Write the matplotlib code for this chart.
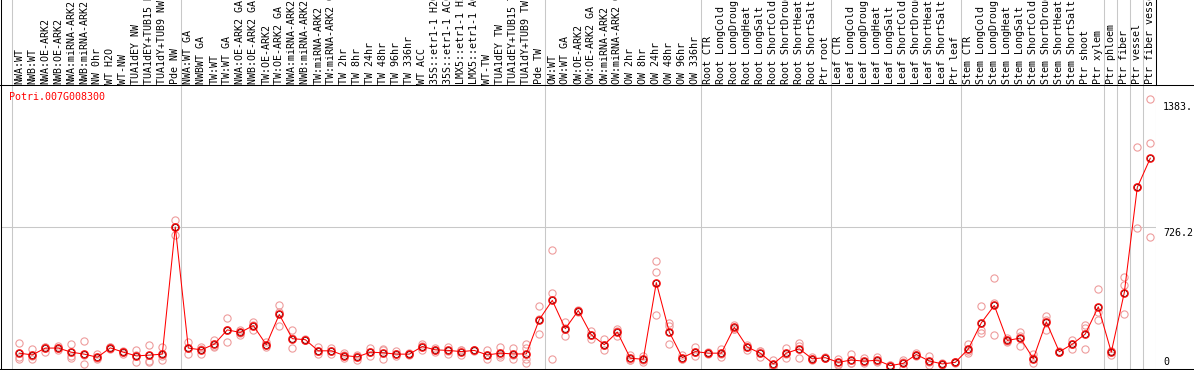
import matplotlib
matplotlib.use("Agg")
import matplotlib.pyplot as plt
from matplotlib.lines import Line2D

# ── data ──────────────────────────────────────────────────────────────────────
gene = "Potri.007G008300"

labels = [
    "NWA:WT", "NWB:WT", "NWA:OE-ARK2", "NWB:OE-ARK2", "NWA:miRNA-ARK2",
    "NWB:miRNA-ARK2", "NW 0hr", "WT H2O", "WT-NW", "TUA1dEY NW",
    "TUA1dEY+TUB15 NW", "TUA1dY+TUB9 NW", "Pde NW",
    "NWA:WT GA", "NWBWT GA", "TW:WT", "TW:WT GA", "NWA:OE-ARK2 GA",
    "NWB:OE-ARK2 GA", "TW:OE-ARK2", "TW:OE-ARK2 GA", "NWA:miRNA-ARK2 GA",
    "NWB:miRNA-ARK2 GA", "TW:miRNA-ARK2", "TW:miRNA-ARK2 GA", "TW 2hr",
    "TW 8hr", "TW 24hr", "TW 48hr", "TW 96hr", "TW 336hr", "WT ACC",
    "35S::etr1-1 H2O", "35S::etr1-1 ACC", "LMX5::etr1-1 H2O",
    "LMX5::etr1-1 ACC", "WT-TW", "TUA1dEY TW", "TUA1dEY+TUB15 TW",
    "TUA1dY+TUB9 TW", "Pde TW",
    "OW:WT", "OW:WT GA", "OW:OE-ARK2", "OW:OE-ARK2 GA", "OW:miRNA-ARK2",
    "OW:miRNA-ARK2 GA", "OW 2hr", "OW 8hr", "OW 24hr", "OW 48hr", "OW 96hr",
    "OW 336hr",
    "Root CTR", "Root LongCold", "Root LongDrought", "Root LongHeat",
    "Root LongSalt", "Root ShortCold", "Root ShortDrought", "Root ShortHeat",
    "Root ShortSalt", "Ptr root",
    "Leaf CTR", "Leaf LongCold", "Leaf LongDrought", "Leaf LongHeat",
    "Leaf LongSalt", "Leaf ShortCold", "Leaf ShortDrought", "Leaf ShortHeat",
    "Leaf ShortSalt", "Ptr leaf",
    "Stem CTR", "Stem LongCold", "Stem LongDrought", "Stem LongHeat",
    "Stem LongSalt", "Stem ShortCold", "Stem ShortDrought", "Stem ShortHeat",
    "Stem ShortSalt", "Ptr shoot", "Ptr xylem",
    "Ptr phloem", "Ptr fiber", "Ptr vessel", "Ptr fiber vessel",
]

means = [
    81, 72, 107, 107, 86, 76, 60, 108, 86, 67, 71, 76, 726,
    107, 98, 127, 200, 187, 222, 124, 279, 155, 150, 93, 93, 69, 62, 86, 83,
    76, 76, 115, 98, 95, 89, 95, 72, 81, 77, 77, 253,
    351, 206, 299, 175, 124, 189, 55, 50, 442, 189, 58, 89,
    81, 81, 213, 112, 81, 26, 81, 103, 52, 58,
    34, 46, 40, 45, 17, 29, 74, 41, 26, 34,
    102, 236, 325, 146, 158, 53, 241, 88, 127, 179, 318,
    86, 391, 929, 1078,
]

reps = [
    [133, 60, 50], [103, 53, 65], [110, 89, 112], [120, 95, 106],
    [129, 64, 55], [144, 24, 70], [77, 50, 55], [115, 100, 110],
    [93, 77, 88], [95, 36, 70], [124, 43, 36], [115, 45, 67],
    [764, 686, 728],
    [136, 77, 108], [115, 77, 100], [146, 115, 120], [262, 136, 202],
    [201, 175, 185], [239, 201, 226], [136, 112, 124], [329, 218, 290],
    [201, 107, 157], [153, 147, 150], [110, 76, 93], [107, 79, 93],
    [81, 55, 71], [72, 46, 67], [107, 64, 88], [98, 50, 100], [90, 64, 76],
    [82, 70, 76], [129, 95, 120], [107, 89, 98], [115, 77, 93],
    [98, 72, 95], [98, 90, 96], [95, 52, 70], [115, 60, 70],
    [107, 50, 74], [129, 107, 50, 29], [322, 179, 258],
    [609, 387, 50], [239, 170, 209], [304, 294, 299], [196, 153, 176],
    [155, 95, 122], [203, 170, 194], [72, 46, 47], [67, 38, 45],
    [551, 494, 275], [236, 218, 129], [72, 50, 52], [115, 67, 85],
    [86, 76, 81], [102, 62, 79], [227, 206, 206], [124, 98, 114],
    [90, 62, 91], [46, 12, 20], [107, 58, 78], [133, 58, 119],
    [60, 48, 50], [62, 55, 57],
    [53, 26, 23], [77, 29, 32], [55, 29, 36], [60, 34, 41], [20, 12, 19],
    [46, 4, 37], [84, 64, 74], [64, 22, 37], [30, 22, 26], [36, 30, 36],
    [129, 84, 93], [324, 201, 184], [463, 335, 172], [160, 136, 142],
    [189, 117, 168], [76, 29, 55], [273, 198, 252], [93, 85, 86],
    [150, 102, 129], [223, 102, 210], [411, 253, 290],
    [93, 72, 93], [468, 428, 282], [1134, 721, 932], [1383, 1154, 674],
]

# last index of each sample group (a separator follows each)
group_ends = [12, 40, 52, 62, 72, 83, 84, 85, 86, 87]
y_top = 1452.4

# ── styling ───────────────────────────────────────────────────────────────────
W, H = 1194, 370
MEAN_COL = "#ff0000"
REP_COL = "#ee9c9c"
SEP_COL = "#c8c8c8"
FONT = "DejaVu Sans Mono"
FS = 7.2
LW = 0.75

# pixel layout of the original page
PX_L, PX_R, PX_TOP, PX_BOT = 1, 1156, 85, 369
X0_PX, STEP_PX = 19.3, 13.0

fig = plt.figure(figsize=(W / 100, H / 100), dpi=100)
fig.patch.set_facecolor("white")

ax = fig.add_axes([PX_L / W, 1 - PX_BOT / H, (PX_R - PX_L) / W, (PX_BOT - PX_TOP) / H])
hax = fig.add_axes([PX_L / W, 1 - PX_TOP / H, (PX_R - PX_L) / W, PX_TOP / H])

xlim = ((PX_L - X0_PX) / STEP_PX, (PX_R - X0_PX) / STEP_PX)
for a in (ax, hax):
    a.set_xlim(*xlim)
    a.set_xticks([])
    a.set_yticks([])
    for s in a.spines.values():
        s.set_visible(False)
    a.spines["left"].set_visible(True)
    a.spines["left"].set_color("black")
    a.spines["left"].set_linewidth(LW)

ax.set_ylim(0, y_top)
hax.set_ylim(0, PX_TOP)
hax.spines["right"].set_visible(True)
hax.spines["right"].set_color("black")
hax.spines["right"].set_linewidth(LW)

# separators between sample groups
seps = [-1 + 0.4] + [e + 0.4 for e in group_ends]
for s in seps:
    ax.axvline(s, color=SEP_COL, lw=LW, zorder=1)
    hax.axvline(s, color=SEP_COL, lw=LW, zorder=1)

# mid grid line
ax.axhline(y_top / 2, color=SEP_COL, lw=LW, zorder=1)

# replicate points
xs = list(range(len(means)))
for i, r in enumerate(reps):
    ax.plot([i] * len(r), r, ls="none", marker="o", ms=5.2, mfc="none",
            mec=REP_COL, mew=0.8, zorder=2, clip_on=False)

# mean line and markers
ax.plot(xs, means, color=MEAN_COL, lw=LW, zorder=3)
ax.plot(xs, means, ls="none", marker="o", ms=4.3, mfc="none",
        mec="black", mew=0.5, zorder=4)
ax.plot(xs, means, ls="none", marker="o", ms=5.3, mfc="none",
        mec=MEAN_COL, mew=0.9, zorder=5)

# sample labels
for i, lab in enumerate(labels):
    hax.text(i, 1, lab, rotation=90, ha="center", va="bottom",
             fontsize=FS, family=FONT, color="black")

# gene name
ax.annotate(gene, xy=(0, 1), xycoords="axes fraction", xytext=(6, -8.4),
            textcoords="offset points", ha="left", va="center",
            fontsize=FS, family=FONT, color=MEAN_COL)

# value labels on the right
y_max = max(max(r) for r in reps)
for val, txt, dy in [(y_max, f"{y_max:.1f}"[:5], -6.3),
                     (y_top / 2, f"{y_top / 2:.1f}", -4.1),
                     (0, "0", 5.0)]:
    ax.annotate(txt, xy=(1, val), xycoords=("axes fraction", "data"),
                xytext=(5, dy), textcoords="offset points", ha="left",
                va="center", fontsize=FS, family=FONT, color="black",
                annotation_clip=False)

# frame lines across the full width
for py in (PX_TOP, PX_BOT):
    fig.add_artist(Line2D([0, 1], [1 - py / H] * 2, transform=fig.transFigure,
                          color="black", lw=LW))

fig.savefig("out.png", dpi=100, facecolor="white")
